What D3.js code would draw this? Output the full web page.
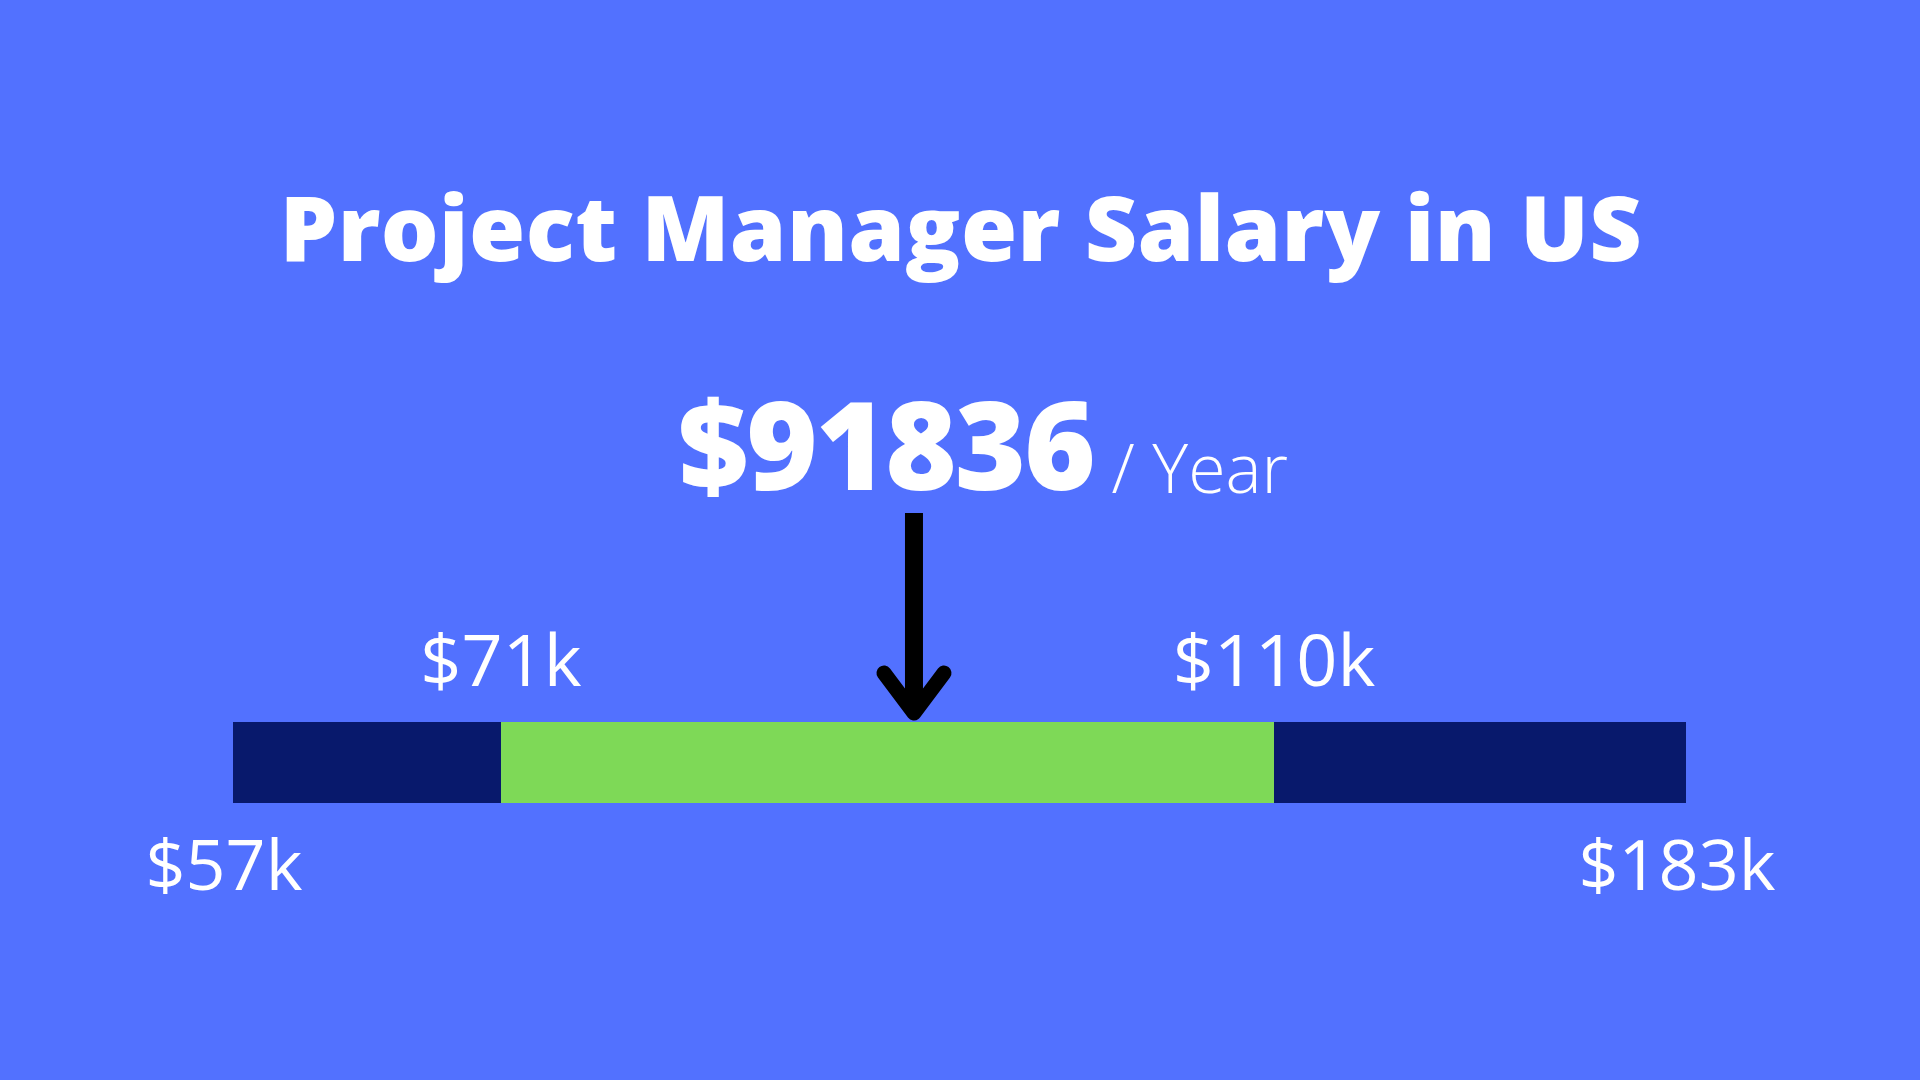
<!DOCTYPE html>
<html>
<head>
<meta charset="utf-8">
<script src="https://cdn.jsdelivr.net/npm/d3@7"></script>
<style>
  html, body { margin: 0; padding: 0; background: #5271ff; }
  svg { display: block; }
</style>
</head>
<body>
<div class="svg-container"></div>
<script>
// salary range data
const title = 'Project Manager Salary in US';
const median = 91836;
const unit = '/ Year';
const breakpoints = [57000, 71000, 110000, 183000];
const segments = ['low', 'mid', 'high'];
const segmentColors = ['#08196c', '#7ed957', '#08196c'];
// which breakpoint labels sit above / below the bar
const labelsAbove = [71000, 110000];
const labelsBelow = [57000, 183000];

const width = 1920;
const height = 1080;
const barTop = 722;
const barHeight = 81;

const svg = d3.select('.svg-container')
    .append('svg')
    .attr('width', width)
    .attr('height', height);

svg.append('rect')
    .attr('width', width)
    .attr('height', height)
    .attr('fill', '#5271ff');

// piecewise scale, the bar is not drawn to a linear scale in the design
const x = d3.scaleLinear()
    .domain(breakpoints)
    .range([233, 501, 1274, 1686]);

const fmt = (v) => '$' + Math.round(v / 1000) + 'k';

// title
svg.append('text')
    .attr('x', 961)
    .attr('y', 261)
    .attr('text-anchor', 'middle')
    .style('font-family', '"Open Sans", sans-serif')
    .style('font-weight', 800)
    .style('font-size', '91px')
    .style('letter-spacing', '0.4px')
    .attr('fill', '#ffffff')
    .text(title);

// headline number
const head = svg.append('text')
    .attr('x', 983)
    .attr('y', 490)
    .attr('text-anchor', 'middle')
    .style('font-family', '"Open Sans", sans-serif')
    .attr('fill', '#ffffff');
head.append('tspan')
    .style('font-weight', 800)
    .style('font-size', '122px')
    .style('letter-spacing', '-2px')
    .text('$' + median);
head.append('tspan')
    .style('font-weight', 300)
    .style('font-size', '68px')
    .style('letter-spacing', '0px')
    .attr('dy', 3)
    .text(' ' + unit);

// bar segments
const segData = segments.map((s, i) => ({ name: s, x0: breakpoints[i], x1: breakpoints[i + 1], color: segmentColors[i] }));
svg.selectAll('.seg')
    .data(segData)
    .enter()
    .append('rect')
    .attr('class', 'seg')
    .attr('x', (d) => x(d.x0))
    .attr('y', barTop)
    .attr('width', (d) => x(d.x1) - x(d.x0))
    .attr('height', barHeight)
    .attr('fill', (d) => d.color);

// labels
const labelStyle = (sel) => sel
    .attr('text-anchor', 'middle')
    .style('font-family', '"Open Sans", sans-serif')
    .style('font-weight', 400)
    .style('font-size', '72px')
    .attr('fill', '#ffffff');

svg.selectAll('.lab-above')
    .data(labelsAbove)
    .enter()
    .append('text')
    .attr('class', 'lab-above')
    .attr('x', (d) => x(d))
    .attr('y', 686)
    .call(labelStyle)
    .text(fmt);

svg.selectAll('.lab-below')
    .data(labelsBelow)
    .enter()
    .append('text')
    .attr('class', 'lab-below')
    .attr('x', (d) => x(d) - 9)
    .attr('y', 890)
    .call(labelStyle)
    .style('font-size', '70px')
    .text(fmt);

// arrow pointing at the median
const ax = x(median);
svg.append('line')
    .attr('x1', ax).attr('x2', ax)
    .attr('y1', 513).attr('y2', 706)
    .attr('stroke', '#000000')
    .attr('stroke-width', 18);
svg.append('polyline')
    .attr('points', [[ax - 30, 673], [ax, 713], [ax + 30, 673]].map((p) => p.join(',')).join(' '))
    .attr('fill', 'none')
    .attr('stroke', '#000000')
    .attr('stroke-width', 15)
    .attr('stroke-linecap', 'round')
    .attr('stroke-linejoin', 'round');
</script>
</body>
</html>
